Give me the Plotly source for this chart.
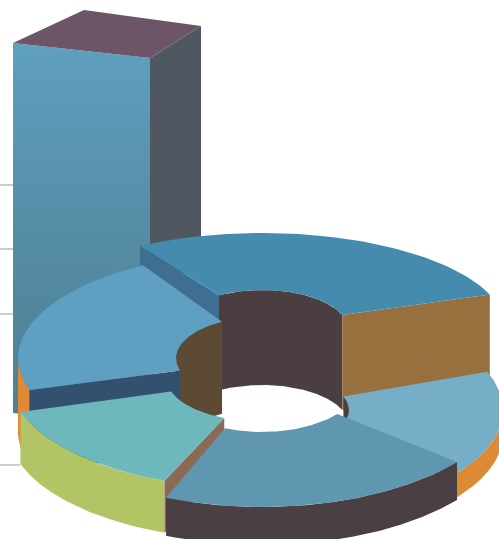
import numpy as np
import plotly.graph_objects as go

# ---- data ----
slice_names = ["A", "B", "C", "D", "E"]
slice_shares = [27.5, 21.5, 14.0, 20.1, 16.9]   # percent of the ring
bar_value = 407
grid_levels = [0, 151, 216, 280]
grid_ends = [20, 13, 13, 13]

# ---- styling / projection ----
W, H = 499, 539
START_ANGLE = 21
BASE_Y = 465
STYLE = {
    "A": dict(c=(262, 329), r=(244, 96), ri=(86, 39), h=95, hi=95, top="#448bae", inner="#4a3e40",
              s="#98703e", e="#3f6f90", wall=None),
    "B": dict(c=(268, 358), r=(250, 107), ri=(92, 42), h=74, hi=92, top="#5f9fc2", inner="#5c4a35",
              s=None, e="#34506f", wall="#e08a35"),
    "E": dict(c=(265, 410), r=(238, 107), ri=(84, 38), h=24, hi=24, top="#76aec8", inner="#4a3e40",
              s=None, e=None, wall="#dd8a35"),
    "C": dict(c=(259, 379), r=(250, 110), ri=(92, 42), h=52, hi=52, top="#6cb8bc", inner=None,
              s=None, e="#8a6a55", wall="#b2c565"),
    "D": dict(c=(262, 382), r=(254, 125), ri=(98, 50), h=38, hi=38, top="#5f97b0", inner=None,
              s=None, e=None, wall="#4a3f42"),
}
DRAW_ORDER = ["A", "B", "E", "C", "D"]

fig = go.Figure()


def poly(xs, ys, color=None, gradient=None):
    kw = dict(fillgradient=gradient) if gradient else dict(fillcolor=color)
    fig.add_trace(go.Scatter(x=list(xs) + [xs[0]], y=list(ys) + [ys[0]], mode="lines", fill="toself",
                             line=dict(width=0), hoverinfo="skip", showlegend=False, **kw))


# gridlines
for lv, end in zip(grid_levels, grid_ends):
    fig.add_trace(go.Scatter(x=[0, end], y=[BASE_Y - lv] * 2, mode="lines",
                             line=dict(color="#9a9a9a", width=1), hoverinfo="skip", showlegend=False))

# 3-D bar, sized by bar_value
top_right = BASE_Y - bar_value
fx0, fx1, dx_back = 13, 150, 51
slope, back_rise = 15, 32
front_drop = 370
poly([fx0, fx1, fx1, fx0],
     [top_right - slope, top_right, top_right + front_drop, top_right - slope + front_drop + 0],
     gradient=dict(type="vertical", colorscale=[[0, "#4c7f90"], [0.55, "#568ea8"], [1, "#5f9fbf"]]))
poly([fx1, fx1 + dx_back, fx1 + dx_back, fx1],
     [top_right, top_right - back_rise, top_right + 215, top_right + 215], "#4f5860")
poly([fx0, 84, fx1 + dx_back, fx1],
     [top_right - slope, top_right - 48, top_right - back_rise, top_right], "#6b5566")

# ring slices, angles derived from the shares
ang = START_ANGLE
ranges = {}
for n, s in zip(slice_names, slice_shares):
    ranges[n] = (ang, ang + s * 3.6)
    ang += s * 3.6


def pts(c, r, a0, a1, n=60):
    t = np.radians(np.linspace(a0, a1, n))
    return c[0] + r[0] * np.cos(t), c[1] - r[1] * np.sin(t)


def facing(c, r, a0, a1, front):
    """Part of an arc whose wall faces the viewer: front half for outer walls, back half for inner."""
    t = np.linspace(a0, a1, 240)
    s = np.sin(np.radians(t))
    t = t[s <= 0] if front else t[s >= 0]
    t = np.radians(t)
    return c[0] + r[0] * np.cos(t), c[1] - r[1] * np.sin(t)


for n in DRAW_ORDER:
    st = STYLE[n]
    a0, a1 = ranges[n]
    c, r, ri, h, hi = st["c"], st["r"], st["ri"], st["h"], st["hi"]
    ox, oy = pts(c, r, a0, a1)
    ix, iy = pts(c, ri, a0, a1)
    if st["inner"]:
        wx, wy = facing(c, ri, a0, a1, False)
        poly(np.r_[wx, wx[::-1]], np.r_[wy, wy[::-1] + hi], st["inner"])
    if st["wall"]:
        wx, wy = facing(c, r, a0, a1, True)
        poly(np.r_[wx, wx[::-1]], np.r_[wy, wy[::-1] + h], st["wall"])
    if st["s"]:
        poly([ix[0], ox[0], ox[0], ix[0]], [iy[0], oy[0], oy[0] + h, iy[0] + hi], st["s"])
    if st["e"]:
        poly([ix[-1], ox[-1], ox[-1], ix[-1]], [iy[-1], oy[-1], oy[-1] + h, iy[-1] + hi], st["e"])
    poly(np.r_[ox, ix[::-1]], np.r_[oy, iy[::-1]], st["top"])

fig.update_layout(
    width=W, height=H, margin=dict(l=0, r=0, t=0, b=0),
    paper_bgcolor="white", plot_bgcolor="white",
    xaxis=dict(range=[0, W], visible=False, fixedrange=True),
    yaxis=dict(range=[H, 0], visible=False, fixedrange=True),
    showlegend=False,
)
fig.write_html("out.html", config={"displayModeBar": False},
               post_script="document.body.style.margin='0';document.body.style.overflow='hidden';")
